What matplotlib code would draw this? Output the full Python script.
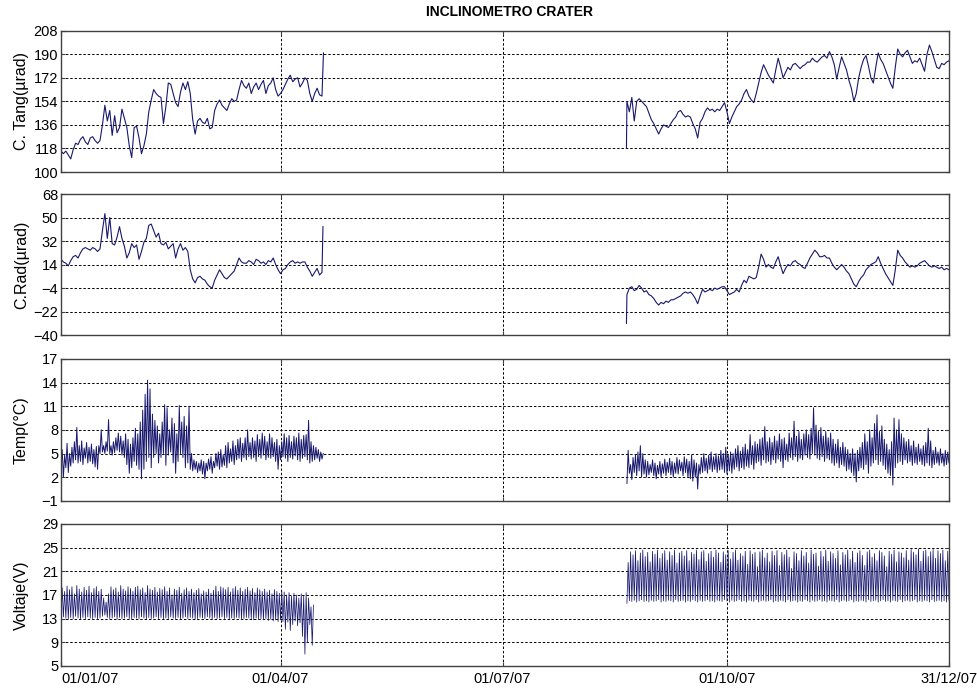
import numpy as np
import matplotlib.pyplot as plt

plt.rcParams["font.family"] = ["Liberation Sans", "DejaVu Sans"]

LINE_COLOR = "#18186e"
FRAME_COLOR = "#404040"
TICK_FS = 10.5

# day numbers counted from 01/01/07
TICK_DAYS = [0, 90, 181, 273, 364]
TICK_LABELS = ["01/01/07", "01/04/07", "01/07/07", "01/10/07", "31/12/07"]

# two recording periods: from day 0, and again from day 232
START_A = 0
START_B = 232

# --- C. Tang (urad), one value per day
tang_a = [116, 114, 116, 113, 110, 117, 122, 121, 125, 127,
          123, 121, 126, 127, 124, 122, 124, 136, 151, 139,
          147, 128, 143, 130, 134, 148, 141, 134, 120, 111,
          134, 135, 126, 114, 120, 129, 146, 155, 163, 160,
          158, 157, 137, 150, 168, 167, 160, 153, 150, 161,
          168, 163, 169, 160, 140, 129, 139, 141, 138, 137,
          141, 133, 134, 147, 152, 155, 151, 149, 147, 152,
          156, 154, 155, 163, 170, 166, 164, 168, 160, 165,
          168, 163, 167, 170, 160, 166, 168, 172, 163, 158,
          160, 163, 167, 171, 174, 169, 171, 172, 165, 168,
          172, 170, 160, 154, 160, 164, 159, 158]
tang_a_end = (107.6, 191)
tang_b_start = (231.8, 118)
tang_b = [154, 146, 157, 139, 154, 156, 154, 152, 150, 145,
          140, 137, 133, 129, 133, 136, 135, 134, 137, 140,
          142, 146, 147, 144, 142, 143, 142, 137, 133, 126,
          138, 141, 146, 149, 147, 148, 146, 148, 147, 150,
          153, 146, 137, 142, 146, 150, 152, 155, 160, 163,
          158, 155, 153, 160, 168, 176, 182, 178, 174, 171,
          168, 178, 187, 180, 172, 176, 180, 178, 182, 183,
          181, 179, 181, 182, 184, 184, 187, 185, 184, 186,
          188, 189, 187, 192, 188, 182, 171, 180, 188, 183,
          178, 170, 164, 154, 160, 172, 180, 186, 189, 181,
          172, 168, 180, 191, 186, 183, 178, 173, 168, 164,
          180, 194, 190, 188, 191, 193, 188, 183, 185, 184,
          187, 182, 177, 190, 197, 192, 186, 180, 179, 183,
          182, 184, 185]

# --- C. Rad (urad), one value per day
rad_a = [18, 16, 15, 13, 17, 20, 21, 19, 23, 26,
         27, 26, 25, 27, 26, 24, 26, 40, 53, 34,
         50, 30, 29, 35, 43, 34, 28, 19, 23, 30,
         27, 29, 18, 24, 31, 34, 44, 45, 40, 35,
         38, 30, 29, 31, 26, 28, 30, 19, 26, 30,
         25, 27, 24, 10, 3, 0, 4, 5, 3, 2,
         -1, -3, -4, 2, 6, 10, 7, 4, 3, 5,
         7, 9, 14, 19, 16, 15, 15, 17, 16, 14,
         18, 17, 15, 16, 14, 17, 16, 19, 14, 10,
         7, 10, 11, 14, 16, 17, 15, 16, 15, 16,
         16, 12, 9, 5, 8, 11, 6, 8]
rad_a_end = (107.4, 43)
rad_b_start = (231.8, -31)
rad_b = [-9, -4, -3, -6, -5, -2, -4, -7, -6, -9,
         -10, -12, -15, -17, -15, -16, -14, -15, -13, -13,
         -12, -11, -10, -8, -7, -8, -7, -9, -12, -16,
         -10, -5, -7, -6, -5, -6, -4, -5, -4, -3,
         -3, -6, -9, -8, -7, -5, -7, -2, 2, 0,
         5, 4, 3, 4, 12, 22, 18, 12, 14, 12,
         11, 16, 20, 13, 7, 11, 14, 13, 16, 17,
         15, 14, 12, 11, 15, 19, 22, 25, 23, 20,
         20, 21, 19, 19, 15, 12, 10, 12, 14, 12,
         9, 7, 3, -1, -3, 1, 4, 6, 10, 12,
         14, 15, 16, 20, 15, 11, 7, 4, 1, -2,
         10, 25, 21, 19, 16, 14, 12, 13, 12, 13,
         15, 16, 17, 15, 13, 12, 13, 12, 11, 12,
         10, 11, 10]

# --- Temperature (C): daily minimum and maximum
temp_a_hi = [5.5, 4.8, 6.3, 5.0, 5.8, 6.5, 8.3, 6.0, 6.6, 5.7,
             6.4, 5.8, 6.2, 5.5, 5.9, 6.0, 8.0, 6.0, 6.5, 9.3,
             6.0, 6.5, 7.0, 7.6, 7.2, 6.6, 7.5, 6.8, 6.2, 7.0,
             8.2, 7.5, 9.0, 10.5, 12.5, 14.3, 13.2, 10.0, 9.2, 8.5,
             7.5, 9.0, 11.2, 10.8, 8.0, 9.5, 8.8, 7.5, 11.1, 9.0,
             9.7, 8.5, 11.0, 5.0, 4.2, 4.0, 3.8, 4.2, 4.0, 3.8,
             4.3, 4.6, 4.0, 5.0, 5.2, 5.5, 4.8, 6.0, 6.4, 5.6,
             6.6, 6.0, 6.8, 7.0, 6.3, 7.0, 8.0, 6.4, 7.0, 6.6,
             7.4, 6.8, 7.6, 7.2, 6.5, 7.5, 7.0, 6.4, 6.8, 6.0,
             6.5, 7.5, 7.0, 7.3, 6.5, 7.2, 7.0, 7.6, 6.8, 7.3,
             7.4, 9.2, 6.5, 6.0, 5.8, 5.5, 5.2, 5.0]
temp_a_lo = [3.5, 2.0, 3.2, 2.6, 3.4, 3.8, 4.2, 3.8, 4.0, 3.6,
             4.4, 3.8, 4.0, 3.7, 3.3, 3.0, 5.0, 5.2, 5.0, 5.3,
             5.0, 4.8, 5.1, 5.4, 5.2, 4.8, 4.5, 3.6, 2.5, 3.2,
             4.0, 3.5, 3.0, 1.8, 3.0, 4.0, 4.5, 3.2, 4.5, 5.0,
             3.8, 4.5, 5.0, 3.5, 4.8, 5.2, 3.8, 2.5, 4.0, 5.0,
             4.5, 3.2, 3.8, 3.0, 2.8, 3.0, 2.6, 2.8, 2.4, 1.8,
             2.8, 3.0, 2.5, 3.2, 3.4, 3.0, 3.3, 3.5, 3.2, 3.8,
             4.0, 3.6, 4.2, 4.4, 4.0, 4.5, 4.2, 4.6, 4.3, 4.5,
             4.0, 4.6, 4.4, 4.8, 4.2, 4.5, 4.4, 4.6, 4.0, 3.0,
             4.2, 4.6, 4.4, 4.0, 4.5, 4.3, 4.7, 4.2, 4.0, 4.4,
             4.6, 4.2, 3.8, 4.0, 4.2, 4.4, 4.0, 4.3]
temp_b_hi = [5.4, 3.6, 4.5, 4.8, 5.2, 6.0, 5.0, 4.2, 4.0, 3.6,
             4.2, 3.8, 3.5, 4.0, 3.7, 4.3, 3.9, 4.4, 4.0, 3.8,
             4.5, 4.2, 3.9, 4.6, 4.3, 4.0, 4.8, 4.2, 3.8, 3.6,
             4.5, 5.0, 4.4, 4.8, 5.2, 4.6, 5.0, 4.7, 5.4, 5.0,
             5.8, 4.8, 5.2, 5.0, 5.6, 6.0, 5.3, 5.8, 6.2, 5.5,
             7.4, 6.0, 6.5, 6.2, 6.8, 7.0, 8.4, 6.5, 7.0, 6.4,
             7.2, 6.6, 7.5, 6.8, 7.0, 6.2, 7.6, 7.0, 9.1, 7.2,
             7.8, 6.8, 7.5, 8.0, 7.4, 8.2, 10.8, 8.6, 7.8, 8.3,
             7.2, 7.8, 7.0, 7.6, 6.8, 6.2, 6.8, 5.8, 6.4, 5.8,
             5.5, 5.0, 5.6, 5.0, 5.4, 5.8, 6.4, 7.5, 6.5, 8.0,
             7.0, 8.8, 9.9, 7.8, 8.5, 6.8, 6.2, 5.5, 6.5, 9.5,
             8.0, 9.3, 7.5, 7.0, 6.5, 6.8, 6.0, 6.6, 5.8, 6.2,
             5.6, 6.0, 6.4, 8.2, 6.6, 5.4, 5.8, 5.2, 5.6, 5.0,
             5.4, 5.2, 5.0]
temp_b_lo = [1.2, 2.5, 1.7, 2.6, 2.2, 2.8, 2.0, 2.4, 2.0, 2.3,
             2.6, 2.2, 1.8, 2.4, 2.0, 2.5, 2.2, 2.6, 2.3, 2.0,
             2.5, 2.4, 2.8, 2.2, 2.6, 2.0, 1.8, 1.5, 2.0, 0.5,
             2.4, 2.6, 2.8, 2.5, 3.0, 2.7, 3.0, 2.6, 2.9, 3.0,
             2.6, 2.4, 2.8, 2.5, 3.0, 3.3, 2.8, 3.2, 3.0, 3.4,
             3.2, 3.6, 3.0, 3.8, 4.0, 3.5, 4.2, 3.8, 4.0, 3.6,
             4.2, 3.8, 4.3, 4.0, 3.2, 4.2, 4.0, 4.5, 4.2, 4.6,
             4.0, 4.4, 4.2, 4.8, 4.5, 4.3, 5.0, 4.8, 4.4, 4.2,
             4.6, 4.0, 4.4, 4.2, 3.8, 3.5, 3.8, 3.2, 3.6, 3.4,
             2.8, 3.0, 2.6, 2.2, 1.4, 2.8, 3.2, 3.0, 3.6, 2.5,
             3.4, 3.8, 4.2, 3.6, 4.0, 3.5, 3.0, 2.5, 2.2, 1.0,
             3.2, 3.8, 4.0, 3.6, 4.2, 3.8, 4.0, 3.5, 3.8, 3.6,
             4.0, 3.6, 3.4, 3.8, 3.5, 3.2, 3.6, 3.8, 3.5, 3.8,
             3.4, 3.6, 3.8]

# --- Battery voltage (V): daily minimum and maximum
volt_a_hi = [18.2, 17.6, 18.5, 17.9, 18.4, 17.2, 18.6, 18.0, 17.5, 18.3,
             17.8, 18.5, 17.4, 18.1, 18.4, 17.6, 18.0, 16.5, 15.8, 17.2,
             18.4, 17.9, 18.2, 17.5, 18.6, 18.0, 17.7, 18.4, 18.1, 17.6,
             18.3, 18.5, 17.9, 18.2, 17.4, 18.6, 18.0, 17.8, 18.3, 17.5,
             18.1, 17.9, 18.4, 17.6, 18.2, 17.0, 18.0, 17.8, 18.3, 17.3,
             17.9, 18.2, 17.6, 18.0, 17.4, 17.8, 18.1, 17.2, 17.7, 17.5,
             18.0, 17.3, 17.8, 18.5, 17.6, 18.4, 18.2, 17.9, 18.3, 17.5,
             18.1, 18.4, 17.8, 18.2, 17.6, 18.0, 18.3, 17.7, 18.1, 17.4,
             18.2, 17.9, 17.6, 18.0, 17.5, 17.8, 17.2, 17.9, 17.6, 17.3,
             17.7, 17.5, 17.0, 17.4, 16.8, 17.3, 17.0, 16.5, 17.2, 16.8,
             17.4, 16.5, 15.0, 15.3]
volt_a_lo = [13.0, 13.3, 13.1, 12.9, 13.2, 13.0, 13.4, 13.1, 12.9, 13.2,
             13.0, 13.3, 13.1, 13.0, 13.2, 12.9, 13.1, 13.4, 13.6, 13.2,
             13.0, 13.1, 13.3, 12.9, 13.2, 13.0, 13.1, 13.3, 13.0, 12.9,
             13.2, 13.1, 13.0, 13.3, 13.1, 12.9, 13.2, 13.0, 13.1, 13.3,
             13.0, 13.2, 12.9, 13.1, 13.0, 13.3, 13.1, 13.0, 13.2, 12.9,
             13.1, 13.3, 13.0, 13.2, 13.1, 12.9, 13.0, 13.2, 13.1, 13.0,
             13.3, 13.1, 12.9, 13.2, 13.0, 13.1, 13.3, 13.0, 13.2, 12.9,
             13.1, 13.0, 13.2, 13.1, 12.9, 13.0, 13.2, 13.1, 13.0, 12.8,
             13.1, 12.9, 13.0, 12.8, 13.0, 12.7, 12.9, 12.6, 12.8, 12.5,
             12.8, 12.5, 11.2, 12.4, 11.0, 12.0, 12.6, 11.8, 12.3, 10.0,
             7.0, 9.0, 12.0, 8.5]
volt_b_hi = [22.5, 24.3, 23.8, 24.5, 22.8, 24.1, 24.6, 23.5, 24.2, 22.6,
             24.4, 23.9, 24.6, 23.2, 24.0, 24.5, 22.9, 24.3, 23.7, 24.6,
             22.4, 24.1, 24.4, 23.6, 24.5, 22.8, 24.2, 23.9, 24.6, 23.0,
             24.3, 24.5, 22.7, 24.0, 24.4, 23.4, 24.6, 24.1, 22.5, 24.3,
             23.8, 24.5, 23.1, 24.2, 24.6, 22.9, 24.0, 23.6, 24.4, 22.2,
             24.5, 23.9, 24.2, 21.8, 24.3, 24.6, 23.3, 24.1, 22.6, 24.4,
             23.7, 24.5, 22.0, 24.2, 23.8, 24.6, 23.4, 21.5, 24.3, 24.0,
             22.8, 24.5, 23.6, 24.2, 22.4, 24.6, 23.9, 24.1, 21.9, 24.4,
             23.5, 24.6, 22.7, 24.3, 24.0, 23.2, 24.5, 22.1, 24.2, 23.8,
             24.6, 23.0, 24.4, 22.5, 24.1, 24.5, 23.7, 22.0, 24.3, 24.6,
             23.4, 24.0, 22.8, 24.5, 24.2, 23.6, 21.8, 24.4, 23.9, 24.6,
             22.6, 24.3, 24.1, 23.3, 24.5, 22.9, 24.7, 24.2, 23.8, 24.8,
             22.7, 24.4, 24.6, 23.5, 24.3, 24.7, 23.2, 24.5, 24.0, 24.6,
             22.8, 24.4, 23.6]
volt_b_lo = [15.6, 16.0, 15.9, 16.1, 15.8, 16.0, 16.2, 15.9, 16.0, 15.8,
             16.1, 15.9, 16.0, 16.2, 15.8, 16.0, 15.9, 16.1, 16.0, 15.8,
             16.2, 15.9, 16.0, 16.1, 15.8, 16.0, 15.9, 16.2, 16.0, 15.8,
             16.1, 15.9, 16.0, 16.2, 15.9, 16.0, 15.8, 16.1, 16.0, 15.9,
             16.2, 16.0, 15.8, 16.1, 15.9, 16.0, 16.2, 15.9, 16.0, 15.8,
             16.1, 16.0, 15.9, 16.2, 15.8, 16.0, 16.1, 15.9, 16.0, 16.2,
             15.8, 16.0, 15.9, 16.1, 16.0, 15.8, 16.2, 15.9, 16.0, 16.1,
             15.8, 16.0, 15.9, 16.2, 16.0, 15.8, 16.1, 15.9, 16.0, 16.2,
             15.9, 16.0, 15.8, 16.1, 16.0, 15.9, 16.2, 15.8, 16.0, 16.1,
             15.9, 16.0, 16.2, 15.8, 16.0, 15.9, 16.1, 16.0, 15.8, 16.2,
             15.9, 16.0, 16.1, 15.8, 16.0, 16.2, 15.9, 16.0, 15.8, 16.1,
             16.0, 15.9, 16.2, 15.8, 16.0, 16.1, 15.9, 16.0, 16.2, 15.8,
             16.0, 15.9, 16.1, 16.0, 15.8, 16.2, 15.9, 16.0, 16.1, 15.9,
             16.0, 15.8, 16.1]


def daily_series(values, start, head=None, tail=None):
    t = list(start + np.arange(len(values)))
    v = list(values)
    if head is not None:
        t.insert(0, head[0])
        v.insert(0, head[1])
    if tail is not None:
        t.append(tail[0])
        v.append(tail[1])
    return np.array(t, float), np.array(v, float)


def min_max_series(lo, hi, start):
    # minimum at the start of each day, maximum at midday
    d = start + np.arange(len(lo))
    t = np.column_stack([d, d + 0.5]).ravel()
    v = np.column_stack([lo, hi]).ravel()
    return t, v


def style_axis(ax, ylim, step, ylabel, show_x):
    ax.set_xlim(0, 364)
    ax.set_ylim(*ylim)
    ax.set_yticks(np.arange(ylim[0], ylim[1] + 0.1, step))
    ax.set_xticks(TICK_DAYS)
    ax.set_xticklabels(TICK_LABELS if show_x else [])
    if show_x:
        # keep the first date inside the figure, starting at the axis edge
        ax.get_xticklabels()[0].set_horizontalalignment("left")
        ax.get_xticklabels()[0].set_x(-2)
    ax.grid(True, color="black", linestyle=(0, (2.5, 2)), linewidth=0.7)
    ax.set_axisbelow(True)
    for sp in ax.spines.values():
        sp.set_color(FRAME_COLOR)
        sp.set_linewidth(1.0)
    ax.tick_params(axis="both", direction="in", length=3, color=FRAME_COLOR,
                   labelsize=TICK_FS, pad=2, top=True, right=True)
    ax.tick_params(axis="x", pad=4)
    ax.set_ylabel(ylabel, fontsize=11.5)
    ax.yaxis.set_label_coords(-0.036, 0.5)


fig = plt.figure(figsize=(9.77, 6.88), dpi=100)
left, width = 0.0624, 0.9089
ax_tang = fig.add_axes([left, 0.750, width, 0.2054])
ax_rad = fig.add_axes([left, 0.513, width, 0.2050])
ax_temp = fig.add_axes([left, 0.272, width, 0.2064])
ax_volt = fig.add_axes([left, 0.032, width, 0.2064])

lw = 0.8
t, v = daily_series(tang_a, START_A, tail=tang_a_end)
ax_tang.plot(t, v, color=LINE_COLOR, lw=lw)
t, v = daily_series(tang_b, START_B, head=tang_b_start)
ax_tang.plot(t, v, color=LINE_COLOR, lw=lw)
style_axis(ax_tang, (100, 208), 18, "C. Tang(µrad)", False)

t, v = daily_series(rad_a, START_A, tail=rad_a_end)
ax_rad.plot(t, v, color=LINE_COLOR, lw=lw)
t, v = daily_series(rad_b, START_B, head=rad_b_start)
ax_rad.plot(t, v, color=LINE_COLOR, lw=lw)
style_axis(ax_rad, (-40, 68), 18, "C.Rad(µrad)", False)

for lo, hi, s in [(temp_a_lo, temp_a_hi, START_A), (temp_b_lo, temp_b_hi, START_B)]:
    t, v = min_max_series(lo, hi, s)
    ax_temp.plot(t, v, color=LINE_COLOR, lw=0.7)
style_axis(ax_temp, (-1, 17), 3, "Temp(°C)", False)

for lo, hi, s in [(volt_a_lo, volt_a_hi, START_A), (volt_b_lo, volt_b_hi, START_B)]:
    t, v = min_max_series(lo, hi, s)
    ax_volt.plot(t, v, color=LINE_COLOR, lw=0.55)
style_axis(ax_volt, (5, 29), 4, "Voltaje(V)", True)

fig.text(0.522, 0.982, "INCLINOMETRO CRATER", ha="center", va="center",
         fontsize=10, fontweight="bold")

fig.savefig("out.png", dpi=100)
